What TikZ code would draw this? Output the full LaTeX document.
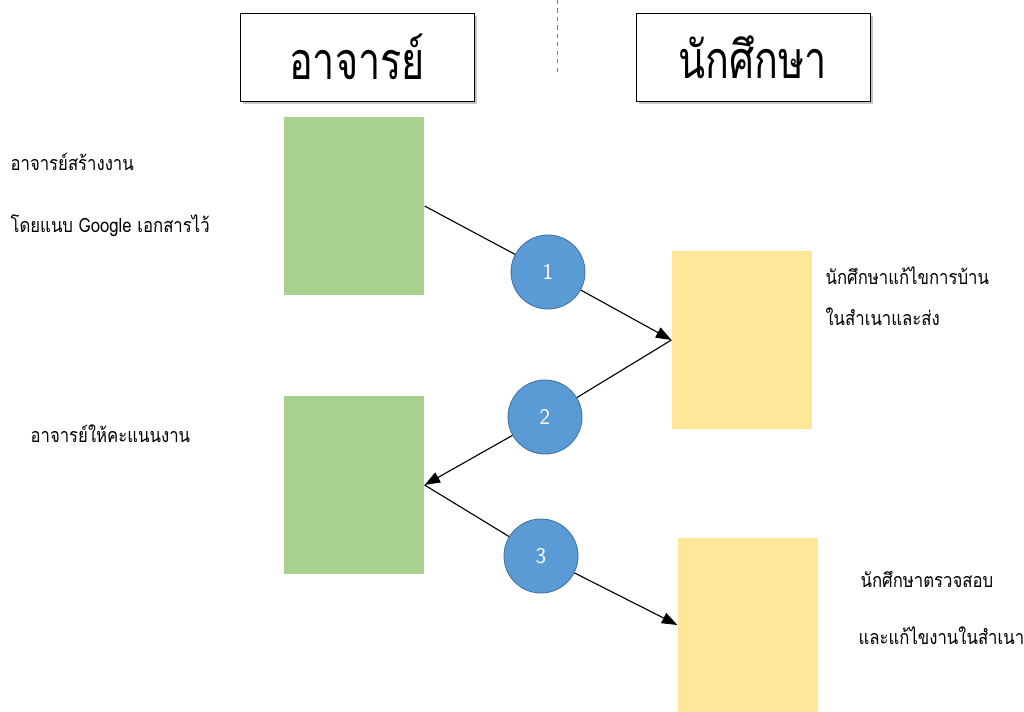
\documentclass[tikz,border=0pt]{standalone}
\usepackage{fontspec}
\newfontfamily\headfont[Script=Thai,FakeStretch=0.76]{Loma}
\newfontfamily\thaifont[Script=Thai,FakeStretch=0.85]{Loma}
\usepackage{xcolor}
\usepackage{tikz}
\usetikzlibrary{positioning}
\usetikzlibrary{arrows.meta}
\usetikzlibrary{shadows}

\definecolor{teachgreen}{HTML}{A9D18E}
\definecolor{studyellow}{HTML}{FFE699}
\definecolor{stepblue}{HTML}{5B9BD5}
\definecolor{stepedge}{HTML}{41719C}

\begin{document}
\begin{tikzpicture}[x=0.025cm,y=-0.025cm,thick,
  header/.style={draw=black,semithick,fill=white,minimum width=5.85cm,minimum height=2.2cm,
    font=\headfont\fontsize{37}{40}\selectfont,
    drop shadow={shadow xshift=2pt,shadow yshift=-2pt,opacity=0.45}},
  greenbox/.style={fill=teachgreen,minimum width=3.5cm,minimum height=4.45cm,inner sep=0pt},
  yellowbox/.style={fill=studyellow,minimum width=3.5cm,minimum height=4.45cm,inner sep=0pt},
  stepnum/.style={circle,fill=stepblue,draw=stepedge,semithick,minimum size=1.85cm,inner sep=0pt,
    text=white,font=\sffamily\fontsize{16}{16}\selectfont},
  note/.style={anchor=base west,inner sep=0pt,font=\thaifont\fontsize{14}{17}\selectfont},
  flow/.style={-{Triangle[length=11pt,width=8pt]},black}]
\useasboundingbox (0,0) rectangle (1024,711);

% headers
\node[header] (teacher) at (357,57) {อาจารย์};
\node[header] (student) at (753,57) {นักศึกษา};
\draw[gray,dashed,thin] (557,0) -- (557,73);

% boxes
\node[greenbox]  (make)   at (354,206) {};
\node[greenbox]  (grade)  at (354,485) {};
\node[yellowbox] (send)   at (742,340) {};
\node[yellowbox,minimum height=4.35cm] (check) at (748,625) {};

% steps
\node[stepnum] (one)   at (548,272) {1};
\node[stepnum] (two)   at (545,417) {2};
\node[stepnum] (three) at (541,556) {3};

\draw (make.east) -- (one);
\draw[flow] (one) -- (send.west);
\draw (send.west) -- (two);
\draw[flow] (two) -- (grade.east);
\draw (grade.east) -- (three);
\draw[flow] (three) -- (check.west);

% notes
\node[note] (makeA)  at (10,170)  {อาจารย์สร้างงาน};
\node[note] (makeB)  at (10,232)  {โดยแนบ Google เอกสารไว้};
\node[note] (gradeA) at (30,442)  {อาจารย์ให้คะแนนงาน};
\node[note] (sendA)  at (825,284) {นักศึกษาแก้ไขการบ้าน};
\node[note] (sendB)  at (825,325) {ในสำเนาและส่ง};
\node[note] (checkA) at (860,587) {นักศึกษาตรวจสอบ};
\node[note] (checkB) at (858,644) {และแก้ไขงานในสำเนา};
\end{tikzpicture}
\end{document}
